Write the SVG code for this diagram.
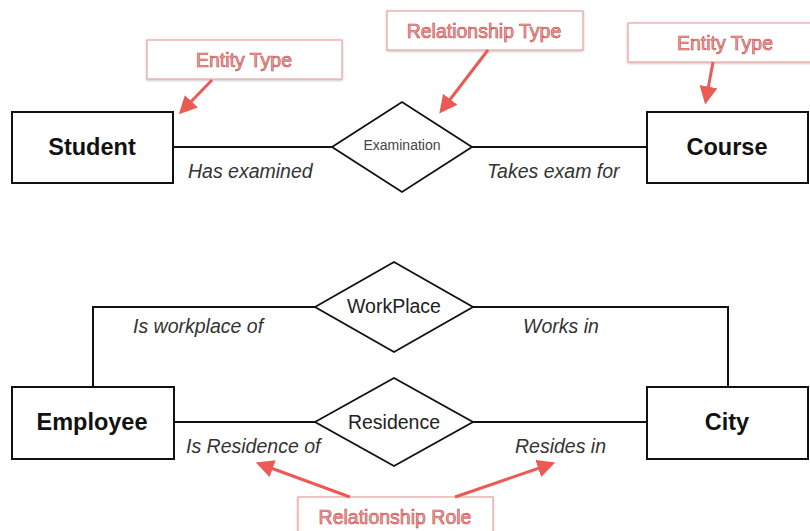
<svg xmlns="http://www.w3.org/2000/svg" width="810" height="531" viewBox="0 0 810 531">
<style>
.ent{fill:#fff;stroke:#111;stroke-width:2}
.rel{fill:#fff;stroke:#111;stroke-width:1.8}
.line{fill:none;stroke:#111;stroke-width:2}
.et{font-family:"Liberation Sans",Arial,sans-serif;font-weight:bold;font-size:23.5px;fill:#111;text-anchor:middle}
.rt{font-family:"Liberation Sans",Arial,sans-serif;font-size:19.5px;fill:#222;text-anchor:middle}
.role{font-family:"Liberation Sans",Arial,sans-serif;font-style:italic;font-size:19.5px;fill:#333}
.note{fill:#fff;stroke:#e7a3a0;stroke-width:1.2}
.nt{font-family:"Liberation Sans",Arial,sans-serif;font-size:19.5px;fill:#eaa8a4;stroke:#c9413b;stroke-width:0.6;text-anchor:middle}
.arr{stroke:#ec5a55;stroke-width:3;fill:none}
</style>
<defs>
<marker id="ah" markerWidth="6" markerHeight="6" refX="4.5" refY="3" orient="auto" markerUnits="strokeWidth">
<path d="M0,0 L6,3 L0,6 Z" fill="#ec5a55"/>
</marker>
<filter id="sh" x="-5%" y="-10%" width="110%" height="130%">
<feDropShadow dx="0" dy="1" stdDeviation="1" flood-color="#000" flood-opacity="0.25"/>
</filter>
</defs>
<g id="connectors">
<line class="line" x1="174" y1="147" x2="332" y2="147"/>
<line class="line" x1="472" y1="147" x2="647" y2="147"/>
<polyline class="line" points="93,387 93,307 315,307"/>
<polyline class="line" points="473,307 728,307 728,387"/>
<line class="line" x1="174" y1="422" x2="315" y2="422"/>
<line class="line" x1="473" y1="422" x2="647" y2="422"/>
</g>
<g id="student"><rect class="ent" x="12" y="112" width="161" height="71"/><text class="et" x="92" y="155">Student</text></g>
<g id="course"><rect class="ent" x="647" y="112" width="161" height="71"/><text class="et" x="727" y="155">Course</text></g>
<g id="examination"><polygon class="rel" points="332,147 402,102 472,147 402,192"/><text x="402" y="150" font-family="Liberation Sans, Arial, sans-serif" font-size="14" fill="#444" text-anchor="middle">Examination</text></g>
<g id="employee"><rect class="ent" x="12" y="387" width="162" height="72"/><text class="et" x="92" y="430">Employee</text></g>
<g id="city"><rect class="ent" x="647" y="387" width="161" height="72"/><text class="et" x="727" y="430">City</text></g>
<g id="workplace"><polygon class="rel" points="315,307 394,262 473,307 394,352"/><text class="rt" x="394" y="313">WorkPlace</text></g>
<g id="residence"><polygon class="rel" points="315,422 394,378 473,422 394,466"/><text class="rt" x="394" y="429">Residence</text></g>
<g id="roles">
<text class="role" x="188" y="178">Has examined</text>
<text class="role" x="487" y="178">Takes exam for</text>
<text class="role" x="133" y="333">Is workplace of</text>
<text class="role" x="523" y="333">Works in</text>
<text class="role" x="186" y="453">Is Residence of</text>
<text class="role" x="515" y="453">Resides in</text>
</g>
<g id="note-entity1"><rect class="note" filter="url(#sh)" x="147" y="40" width="195" height="39"/><text class="nt" x="244" y="67">Entity Type</text></g>
<g id="note-reltype"><rect class="note" filter="url(#sh)" x="387" y="11" width="196" height="39"/><text class="nt" x="484" y="38">Relationship Type</text></g>
<g id="note-entity2"><rect class="note" filter="url(#sh)" x="628" y="23" width="186" height="39"/><text class="nt" x="725" y="50">Entity Type</text></g>
<g id="note-role"><rect class="note" filter="url(#sh)" x="298" y="497" width="195" height="40"/><text class="nt" x="395" y="524">Relationship Role</text></g>
<g id="callout-arrows">
<line class="arr" marker-end="url(#ah)" x1="212" y1="80" x2="182" y2="111"/>
<line class="arr" marker-end="url(#ah)" x1="488" y1="50" x2="442" y2="110"/>
<line class="arr" marker-end="url(#ah)" x1="713" y1="62" x2="706" y2="100"/>
<line class="arr" marker-end="url(#ah)" x1="350" y1="497" x2="260" y2="464"/>
<line class="arr" marker-end="url(#ah)" x1="455" y1="497" x2="551" y2="464"/>
</g>
</svg>
